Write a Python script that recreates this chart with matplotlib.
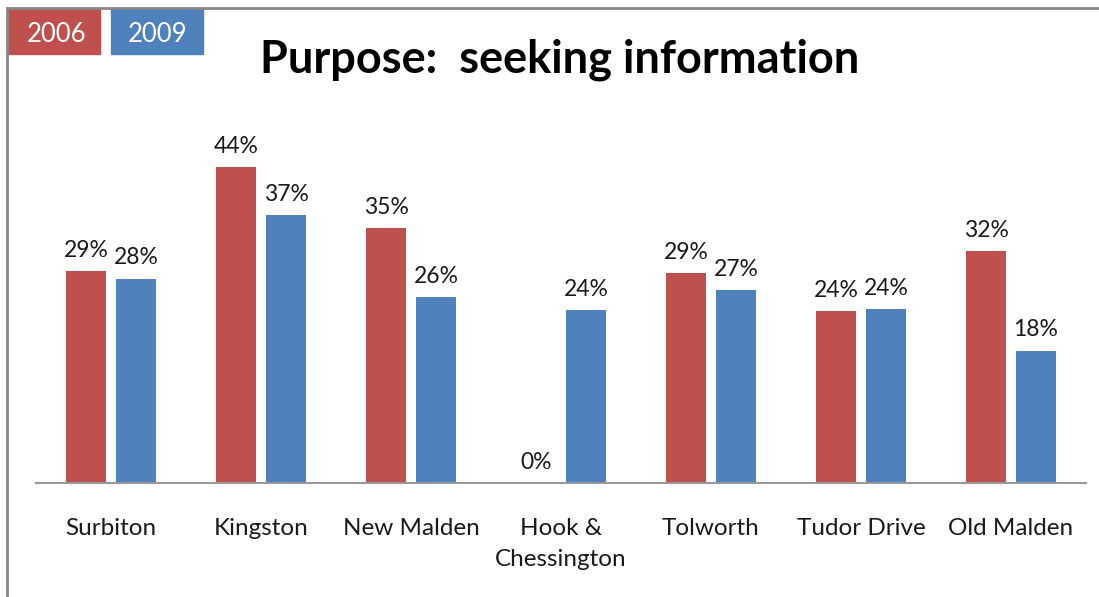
import matplotlib
matplotlib.use('Agg')
from matplotlib import pyplot as plt
from matplotlib.patches import Rectangle
from matplotlib.lines import Line2D
import numpy as np

areas = ['Surbiton', 'Kingston', 'New Malden', 'Hook &\nChessington',
         'Tolworth', 'Tudor Drive', 'Old Malden']
y2006 = [29.4, 43.9, 35.4, 0.0, 29.1, 23.9, 32.2]
y2009 = [28.4, 37.2, 25.8, 24.0, 26.8, 24.2, 18.4]
labels2006 = ['29%', '44%', '35%', '0%', '29%', '24%', '32%']
labels2009 = ['28%', '37%', '26%', '24%', '27%', '24%', '18%']

red = '#C0504D'
blue = '#4F81BD'
plt.rcParams['font.family'] = ['Lato', 'DejaVu Sans']

W, H = 1099, 597
fig = plt.figure(figsize=(W / 100, H / 100), dpi=100)
ax = fig.add_axes([36 / W, 114 / H, 1050 / W, 360 / H])

x = np.arange(len(areas))
w = 40 / 150
ax.bar(x - 25 / 150, y2006, w, color=red)
ax.bar(x + 25 / 150, y2009, w, color=blue)
for i in range(len(areas)):
    ax.text(x[i] - 25 / 150, y2006[i] + 1.4, labels2006[i], ha='center', va='bottom', fontsize=16.5, color='#1a1a1a')
    ax.text(x[i] + 25 / 150, y2009[i] + 1.4, labels2009[i], ha='center', va='bottom', fontsize=16.5, color='#1a1a1a')

ax.set_xlim(-0.5, len(areas) - 0.5)
ax.set_ylim(0, 50)
ax.set_xticks(x)
ax.set_xticklabels(areas, fontsize=17.5, color='#1a1a1a', linespacing=1.6)
ax.tick_params(axis='x', length=0, pad=25)
ax.set_yticks([])
for s in ['top', 'right', 'left']:
    ax.spines[s].set_visible(False)
ax.spines['bottom'].set_color('#999999')
ax.spines['bottom'].set_linewidth(1.5)

# outer frame (top and left edges)
fig.add_artist(Line2D([7 / W, 1], [1 - 8 / H, 1 - 8 / H], color='#888888', lw=2))
fig.add_artist(Line2D([7 / W, 7 / W], [0, 1 - 8 / H], color='#888888', lw=2))

# year boxes
fig.add_artist(Rectangle((7 / W, 1 - 54 / H), 93 / W, 46 / H, color=red))
fig.add_artist(Rectangle((111 / W, 1 - 54 / H), 92 / W, 46 / H, color=blue))
fig.text(57 / W, 1 - 35 / H, '2006', color='white', fontsize=18.5, ha='center', va='center')
fig.text(158 / W, 1 - 35 / H, '2009', color='white', fontsize=18.5, ha='center', va='center')

fig.text(560 / W, 1 - 60 / H, 'Purpose:  seeking information', fontsize=32.5, fontweight='bold',
         ha='center', va='center', color='black')

plt.savefig('out.png', dpi=100)
